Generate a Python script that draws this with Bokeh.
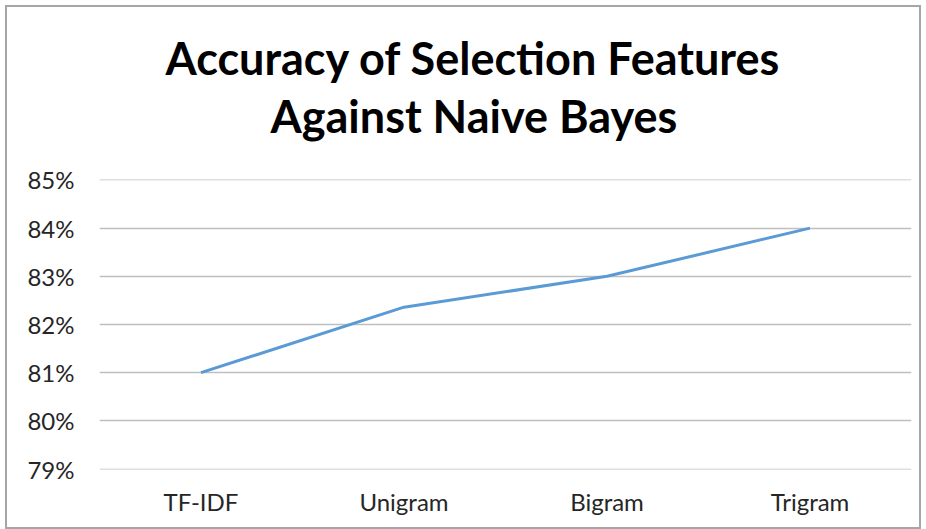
from bokeh.plotting import figure
from bokeh.models import Range1d, PrintfTickFormatter, Title, FixedTicker
from bokeh.embed import file_html
from bokeh.resources import INLINE

categories = ["TF-IDF", "Unigram", "Bigram", "Trigram"]
accuracy = [81.0, 82.36, 83.0, 84.0]
y_ticks = [79, 80, 81, 82, 83, 84, 85]
title_lines = ["Accuracy of Selection Features", "Against Naive Bayes"]

p = figure(width=916, height=524, x_range=categories, y_range=Range1d(78.99, 85.01),
           output_backend="svg", toolbar_location=None,
           min_border_left=92, min_border_right=12, min_border_top=172, min_border_bottom=62)
p.margin = (5, 0, 0, 5)
p.title = None
t2 = Title(text=title_lines[1], align="left", text_font="Lato", text_font_size="45px",
           text_font_style="bold", text_color="black", standoff=74, offset=171)
t1 = Title(text=title_lines[0], align="left", text_font="Lato", text_font_size="45px",
           text_font_style="bold", text_color="black", standoff=-71, offset=66)
p.add_layout(t2, "above")
p.add_layout(t1, "above")

p.line(categories, accuracy, line_color="#5b9bd5", line_width=3)

p.outline_line_color = None
p.xgrid.grid_line_color = None
p.ygrid.grid_line_color = "#bfbfbf"
p.ygrid.grid_line_width = 1.5
p.yaxis.ticker = FixedTicker(ticks=y_ticks)
p.yaxis.formatter = PrintfTickFormatter(format="%d%%")
for ax in (p.xaxis[0], p.yaxis[0]):
    ax.axis_line_color = None
    ax.major_tick_line_color = None
    ax.minor_tick_line_color = None
    ax.major_label_text_font = "Lato"
    ax.major_label_text_font_size = "24px"
    ax.major_label_text_color = "#262626"
p.yaxis.major_label_standoff = 19
p.xaxis.major_label_standoff = 11
p.styles = {"border": "2px solid #a6a6a6"}

open("out.html", "w").write(file_html(p, INLINE))
